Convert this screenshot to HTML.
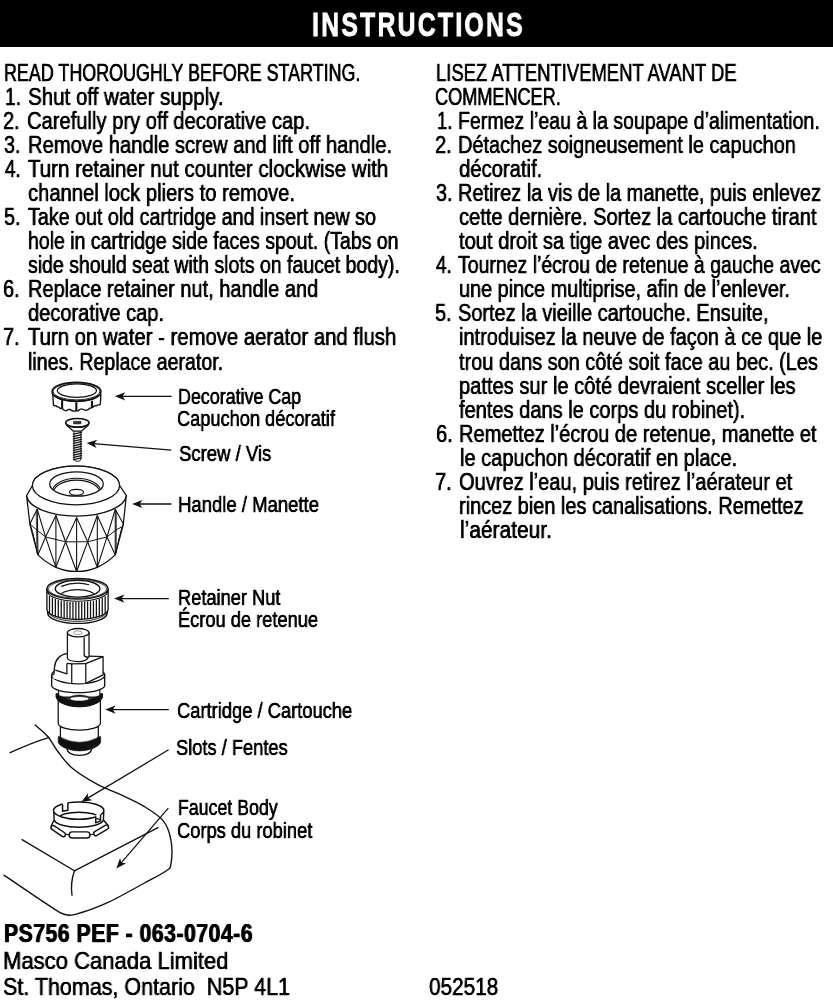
<!DOCTYPE html>
<html lang="en"><head><meta charset="utf-8"><title>Instructions</title>
<style>
html,body{margin:0;padding:0;background:#fff;}
html{width:833px;height:1000px;overflow:hidden;}
body{width:833px;height:1000px;position:relative;overflow:hidden;font-family:"Liberation Sans",sans-serif;}
.bar{position:absolute;left:0;top:0;width:833px;height:46.9px;background:#000;}
.t{position:absolute;white-space:pre;transform-origin:0 0;line-height:1;margin:0;will-change:transform;-webkit-text-stroke:0.3px currentColor;text-shadow:0.15px 0 0 currentColor,-0.15px 0 0 currentColor;}
.b{font-weight:bold;-webkit-text-stroke:0.2px currentColor;text-shadow:none;}
svg{position:absolute;left:0;top:0;}
</style></head><body>
<div class="bar"></div>
<svg width="833" height="1000" viewBox="0 0 833 1000" fill="none" stroke="#111" stroke-linejoin="round" stroke-linecap="butt">
<path d="M52.78,394.21 L53.45,404.78 C53.61,404.96 54.01,405.69 54.41,405.84 C54.81,405.98 55.40,405.48 55.85,405.64 C56.30,405.80 56.62,406.57 57.10,406.80 C57.58,407.02 58.27,406.75 58.73,406.99 C59.20,407.23 59.36,407.98 59.88,408.24 C60.41,408.49 61.37,408.37 61.90,408.53 C62.43,408.69 62.67,408.91 63.05,409.20 C63.44,409.49 63.70,409.98 64.21,410.25 C64.72,410.53 65.49,410.93 66.13,410.83 C66.77,410.73 67.41,409.90 68.05,409.68 C68.69,409.45 69.33,409.33 69.97,409.49 C70.61,409.65 71.25,410.37 71.89,410.64 C72.53,410.91 73.08,411.09 73.81,411.12 C74.55,411.15 75.59,410.89 76.31,410.83 C77.03,410.77 77.59,410.93 78.14,410.73 C78.68,410.54 79.02,409.98 79.58,409.68 C80.14,409.37 80.79,408.91 81.50,408.91 C82.20,408.91 83.10,409.44 83.80,409.68 C84.51,409.92 85.02,410.37 85.73,410.35 C86.43,410.33 87.33,409.93 88.03,409.58 C88.74,409.23 89.34,408.54 89.95,408.24 C90.56,407.93 91.17,407.93 91.68,407.76 C92.19,407.58 92.58,407.50 93.03,407.18 C93.47,406.86 93.83,406.04 94.37,405.84 C94.92,405.63 95.73,406.09 96.29,405.93 C96.85,405.77 97.25,405.04 97.73,404.88 C98.21,404.72 98.74,405.07 99.17,404.97 C99.61,404.88 100.13,404.41 100.33,404.30 L100.90,394.21" stroke-width="1.375" fill="#fff" />
<line x1="62.09" y1="400.17" x2="62.09" y2="408.53" stroke-width="2.09" />
<line x1="76.31" y1="402.28" x2="76.31" y2="410.83" stroke-width="2.09" />
<line x1="91.97" y1="400.74" x2="91.97" y2="407.76" stroke-width="2.09" />
<ellipse cx="76.50" cy="391.60" rx="24.50" ry="9.40" stroke-width="1.485" fill="#fff" />
<ellipse cx="76.50" cy="391.40" rx="23.30" ry="8.40" stroke-width="0.88" fill="none" />
<ellipse cx="76.90" cy="390.60" rx="19.60" ry="6.70" stroke-width="1.265" fill="none" />
<path d="M52.1,393.1 A24.5 9.4 0 0 0 100.9,393.1" stroke-width="1.1" fill="none" />
<path d="M74.0,430.5 L74.0,459.0 Q74.0,461.2 77.75,461.4 Q80.9,461.2 80.9,459.0 L80.9,430.5 Z" stroke-width="0.935" fill="#fff" />
<line x1="73.40" y1="434.20" x2="81.50" y2="432.40" stroke-width="1.32" stroke-linecap="round"/>
<line x1="73.40" y1="436.52" x2="81.50" y2="434.72" stroke-width="1.32" stroke-linecap="round"/>
<line x1="73.40" y1="438.84" x2="81.50" y2="437.04" stroke-width="1.32" stroke-linecap="round"/>
<line x1="73.40" y1="441.16" x2="81.50" y2="439.36" stroke-width="1.32" stroke-linecap="round"/>
<line x1="73.40" y1="443.48" x2="81.50" y2="441.68" stroke-width="1.32" stroke-linecap="round"/>
<line x1="73.40" y1="445.80" x2="81.50" y2="444.00" stroke-width="1.32" stroke-linecap="round"/>
<line x1="73.40" y1="448.12" x2="81.50" y2="446.32" stroke-width="1.32" stroke-linecap="round"/>
<line x1="73.40" y1="450.44" x2="81.50" y2="448.64" stroke-width="1.32" stroke-linecap="round"/>
<line x1="73.40" y1="452.76" x2="81.50" y2="450.96" stroke-width="1.32" stroke-linecap="round"/>
<line x1="73.40" y1="455.08" x2="81.50" y2="453.28" stroke-width="1.32" stroke-linecap="round"/>
<line x1="73.40" y1="457.40" x2="81.50" y2="455.60" stroke-width="1.32" stroke-linecap="round"/>
<line x1="73.40" y1="459.72" x2="81.50" y2="457.92" stroke-width="1.32" stroke-linecap="round"/>
<path d="M66.6,425.2 L73.5,431.2 L81.3,431.2 L88.2,425.2 Z" stroke-width="1.21" fill="#fff" />
<ellipse cx="77.40" cy="422.70" rx="11.70" ry="4.25" stroke-width="1.595" fill="#fff" />
<path d="M65.8,423.5 A11.7 4.3 0 0 0 89.0,423.5" stroke-width="1.32" fill="none" />
<rect x="73.5" y="421.3" width="7.5" height="2.6" fill="#333" stroke="#111" stroke-width="0.5"/>
<path d="M26.6,495.6 L29.94,524.52 L37.95,554.89 Q45.92,562.70 55.90,567.32 Q66.25,571.66 76.61,571.46 Q86.96,571.66 97.32,567.32 Q107.29,562.70 115.26,554.89 L123.27,524.52 L126.3,495.6 Z" stroke-width="1.265" fill="#fff" />
<line x1="37.26" y1="509.33" x2="37.95" y2="554.89" stroke-width="1.1" />
<line x1="55.90" y1="515.54" x2="55.90" y2="567.32" stroke-width="1.1" />
<line x1="76.61" y1="517.61" x2="76.61" y2="571.46" stroke-width="1.1" />
<line x1="97.32" y1="515.54" x2="97.32" y2="567.32" stroke-width="1.1" />
<line x1="115.26" y1="509.33" x2="115.26" y2="554.89" stroke-width="1.1" />
<line x1="36.16" y1="510.83" x2="36.95" y2="553.39" stroke-width="0.77" />
<line x1="116.36" y1="510.83" x2="116.26" y2="553.39" stroke-width="0.77" />
<path d="M37.26,509.33 L45.54,536.94 L55.90,567.32" stroke-width="1.1" fill="none" />
<path d="M55.90,515.54 L45.54,536.94 L37.95,554.89" stroke-width="1.1" fill="none" />
<path d="M55.90,515.54 L65.56,541.77 L76.61,571.46" stroke-width="1.1" fill="none" />
<path d="M76.61,517.61 L65.56,541.77 L55.90,567.32" stroke-width="1.1" fill="none" />
<path d="M76.61,517.61 L87.65,541.77 L97.32,567.32" stroke-width="1.1" fill="none" />
<path d="M97.32,515.54 L87.65,541.77 L76.61,571.46" stroke-width="1.1" fill="none" />
<path d="M97.32,515.54 L106.98,536.94 L115.26,554.89" stroke-width="1.1" fill="none" />
<path d="M115.26,509.33 L106.98,536.94 L97.32,567.32" stroke-width="1.1" fill="none" />
<path d="M37.26,509.33 L29.94,523.83" stroke-width="1.1" fill="none" />
<path d="M115.26,509.33 L123.27,523.83" stroke-width="1.1" fill="none" />
<path d="M29.94,523.83 L32.43,531.42 L37.95,554.89" stroke-width="0.99" fill="none" />
<path d="M123.27,523.83 L120.79,531.42 L115.26,554.89" stroke-width="0.99" fill="none" />
<path d="M29.94,523.83 L35.46,528.93 L45.54,536.94 L65.56,541.77 L87.65,541.77 L106.98,536.94 L117.06,529.35 L123.27,526.17" stroke-width="0.99" fill="none" />
<path d="M26.6,495.6 A49.9 21.4 0 0 0 126.3,495.6 L119.6,485.5 A43.6 19.3 0 0 0 32.4,485.5 Z" stroke-width="1.265" fill="#fff" />
<ellipse cx="76.00" cy="485.50" rx="43.60" ry="19.30" stroke-width="1.265" fill="#fff" />
<ellipse cx="76.50" cy="484.00" rx="26.80" ry="12.20" stroke-width="1.265" fill="#fff" />
<clipPath id="hc"><ellipse cx="76.5" cy="484" rx="26.3" ry="11.7"/></clipPath>
<g clip-path="url(#hc)">
<ellipse cx="76.60" cy="491.50" rx="24.20" ry="13.20" stroke-width="1.1" fill="none" />
<ellipse cx="76.60" cy="493.30" rx="23.40" ry="13.20" stroke-width="1.1" fill="none" />
</g>
<ellipse cx="76.50" cy="492.30" rx="7.00" ry="3.00" stroke-width="1.21" fill="none" />
<path d="M47.7,608 L47.7,613.6 A29.8 10.4 0 0 0 107.2,613.6 L107.2,608 Z" stroke-width="1.43" fill="#fff" />
<path d="M48.4,612.0 A29.2 10.2 0 0 0 106.6,612.0" stroke-width="0.88" fill="none" />
<path d="M46.9,588.8 L46.9,609.2 A30.6 10.3 0 0 0 108.1,609.2 L108.1,588.8 Z" stroke-width="1.32" fill="#fff" />
<line x1="49.50" y1="595.95" x2="49.50" y2="613.05" stroke-width="1.265" />
<line x1="52.43" y1="597.71" x2="52.43" y2="614.81" stroke-width="1.265" />
<line x1="55.36" y1="598.91" x2="55.36" y2="616.01" stroke-width="1.265" />
<line x1="58.29" y1="599.82" x2="58.29" y2="616.92" stroke-width="1.265" />
<line x1="61.22" y1="600.52" x2="61.22" y2="617.62" stroke-width="1.265" />
<line x1="64.15" y1="601.07" x2="64.15" y2="618.17" stroke-width="1.265" />
<line x1="67.08" y1="601.48" x2="67.08" y2="618.58" stroke-width="1.265" />
<line x1="70.01" y1="601.79" x2="70.01" y2="618.89" stroke-width="1.265" />
<line x1="72.94" y1="601.98" x2="72.94" y2="619.08" stroke-width="1.265" />
<line x1="75.87" y1="602.09" x2="75.87" y2="619.19" stroke-width="1.265" />
<line x1="78.80" y1="602.09" x2="78.80" y2="619.19" stroke-width="1.265" />
<line x1="81.73" y1="602.00" x2="81.73" y2="619.10" stroke-width="1.265" />
<line x1="84.66" y1="601.81" x2="84.66" y2="618.91" stroke-width="1.265" />
<line x1="87.59" y1="601.52" x2="87.59" y2="618.62" stroke-width="1.265" />
<line x1="90.52" y1="601.12" x2="90.52" y2="618.22" stroke-width="1.265" />
<line x1="93.45" y1="600.59" x2="93.45" y2="617.69" stroke-width="1.265" />
<line x1="96.38" y1="599.91" x2="96.38" y2="617.01" stroke-width="1.265" />
<line x1="99.31" y1="599.02" x2="99.31" y2="616.12" stroke-width="1.265" />
<line x1="102.24" y1="597.86" x2="102.24" y2="614.96" stroke-width="1.265" />
<line x1="105.17" y1="596.20" x2="105.17" y2="613.30" stroke-width="1.265" />
<path d="M47.199999999999996,591.0 A30.3 10.3 0 0 0 107.8,591.0" stroke-width="1.1" fill="none" />
<ellipse cx="77.50" cy="588.80" rx="30.60" ry="10.30" stroke-width="1.485" fill="#fff" />
<ellipse cx="77.50" cy="589.00" rx="29.00" ry="9.20" stroke-width="0.77" fill="none" />
<ellipse cx="77.60" cy="588.70" rx="22.30" ry="8.40" stroke-width="1.375" fill="#fff" />
<path d="M61.16,586.41 Q76.01,580.60 89.07,584.78" stroke-width="1.21" fill="none" />
<clipPath id="rc"><ellipse cx="77.6" cy="588.7" rx="21.8" ry="7.9"/></clipPath>
<g clip-path="url(#rc)">
<ellipse cx="77.60" cy="596.00" rx="17.20" ry="6.40" stroke-width="1.265" fill="none" />
</g>
<path d="M66.9,748.6 C67.5,753.2 73,755.3 79.4,755.3 C86,755.3 91.2,753.2 91.8,748.6" stroke-width="1.32" fill="#fff" />
<path d="M60.4,741 L60.4,724 L98.3,724 L98.3,741" stroke-width="1.265" fill="#fff" />
<path d="M58.2,738 L58.5,736.2 Q79.45,748.4 100.4,736.2 L100.7,738 L100.7,741.9 C100.7,745.2 92,750.9 79.4,750.9 C67,750.9 58.2,745.2 58.2,741.9 Z" stroke-width="0.55" fill="#111" />
<path d="M58.2,698 L58.2,723.2 A21.1 7.0 0 0 0 100.4,723.2 L100.4,698 Z" stroke-width="1.265" fill="#fff" />
<path d="M58.6,688 L58.6,697 L99.8,697 L99.8,688 Z" stroke-width="1.1" fill="#fff" />
<path d="M57,694.5 C56.2,700 64.3,705.9 79.3,705.7 C94.3,705.9 102.4,700 101.6,694.5 Q96.2,697.0 89.3,699.4 L69.5,699.4 Q62.5,697.0 57,694.5 Z" stroke-width="0.44" fill="#111" />
<path d="M57,694.4 C56.2,700 64.3,705.9 79.3,705.7 C94.3,705.9 102.4,700 101.6,694.4" fill="none" stroke="#111" stroke-width="3.0" stroke-linecap="round"/>
<ellipse cx="79.40" cy="698.40" rx="10.00" ry="3.50" stroke-width="0.44" fill="#111" />
<ellipse cx="79.40" cy="698.70" rx="9.10" ry="1.80" stroke-width="0.33" fill="#fff" stroke="#fff"/>
<path d="M51.7,675 L51.7,685.6 A26.5 7.0 0 0 0 104.7,685.6 L104.7,675 A26.5 8.8 0 0 0 51.7,675 Z" stroke-width="1.32" fill="#fff" />
<path d="M51.7,675 A26.5 8.8 0 0 0 104.7,675" stroke-width="1.265" fill="none" />
<path d="M52.29,675.15 L54.23,673.64 L54.45,667.38 Q55.53,655.49 67.41,653.33 L89.02,656.14 L103.06,656.57 L103.06,674.94 L85.78,683.26 L71.73,683.04 L53.37,678.40 Z" stroke-width="1.265" fill="#fff" stroke="none"/>
<path d="M67.41,653.33 Q55.53,655.49 54.45,667.38 L54.01,674.07 L52.07,675.15" stroke-width="1.265" fill="none" />
<path d="M55.31,670.08 L66.87,673.86 L66.87,663.38" stroke-width="1.265" fill="none" />
<path d="M66.87,663.38 L71.73,663.92 L85.78,663.70" stroke-width="1.265" fill="none" />
<path d="M71.73,663.92 L71.73,683.15" stroke-width="1.265" fill="none" />
<path d="M85.78,663.70 L85.78,683.37" stroke-width="1.265" fill="none" />
<path d="M85.78,663.70 L103.06,656.57 L103.06,674.94 L85.78,683.37" stroke-width="1.265" fill="none" />
<path d="M88.80,656.14 L103.06,656.57" stroke-width="1.265" fill="none" />
<path d="M67.41,632.80 L67.41,658.19 Q68.41,661.54 78.22,661.54 Q85.94,661.54 87.94,657.87 L89.02,656.36 L89.02,632.80 Z" stroke-width="1.265" fill="#fff" />
<path d="M84.16,637.13 L84.16,655.28 Q84.66,657.22 88.15,657.22" stroke-width="1.265" fill="none" />
<ellipse cx="78.20" cy="632.70" rx="10.80" ry="4.20" stroke-width="1.265" fill="#fff" />
<ellipse cx="77.80" cy="632.70" rx="4.30" ry="1.90" stroke-width="0.77" fill="none" stroke="#777"/>
<path d="M34.81,724.80 C37.01,726.80 44.22,732.40 48.02,736.81 C51.82,741.21 53.62,746.01 57.62,751.21 C61.62,756.41 65.63,762.62 72.03,768.02 C78.43,773.42 88.04,779.22 96.04,783.63 C104.04,788.03 112.04,790.63 120.05,794.43 C128.05,798.23 136.85,802.03 144.06,806.43 C151.26,810.84 158.78,815.24 163.27,820.84 C167.75,826.44 169.67,832.85 170.95,840.05 C172.23,847.25 171.83,858.86 170.95,864.06 C170.07,869.26 170.15,868.06 165.67,871.26 C161.18,874.46 153.66,878.06 144.06,883.27 C134.45,888.47 118.85,897.47 108.04,902.47 C97.24,907.47 86.43,911.28 79.23,913.28 C72.03,915.28 70.03,915.88 64.83,914.48 C59.62,913.08 58.22,911.48 48.02,904.87 C37.82,898.27 11.00,879.86 3.60,874.86" stroke-width="1.375" fill="none" />
<path d="M9.60,752.89 Q31.21,742.81 49.22,737.29" stroke-width="1.375" fill="none" />
<path d="M21.61,839.33 L74.43,870.78 L158.46,827.32" stroke-width="1.375" fill="none" />
<path d="M74.43,870.78 Q70.11,883.27 72.03,895.75" stroke-width="1.375" fill="none" />
<path d="M53.74,810.65 L54.12,819.97 L50.76,826.70 L63.05,835.63 L93.79,835.63 L108.78,826.12 L103.40,819.97 L103.78,812.09 Z" stroke-width="1.1" fill="#fff" stroke="none"/>
<path d="M54.12,819.97 L50.95,826.50" stroke-width="1.43" fill="none" />
<path d="M103.40,819.97 L108.59,825.93" stroke-width="1.43" fill="none" />
<rect x="49.95" y="828.96" width="16.60" height="4.30" rx="2.15" ry="2.15" fill="#fff" stroke-width="1.45" transform="rotate(34 58.25 831.11)"/>
<rect x="69.18" y="831.86" width="20.80" height="6.20" rx="3.10" ry="3.10" fill="#fff" stroke-width="1.45" transform="rotate(0 79.58 834.96)"/>
<rect x="92.80" y="828.20" width="16.60" height="4.30" rx="2.15" ry="2.15" fill="#fff" stroke-width="1.45" transform="rotate(-31 101.10 830.35)"/>
<path d="M66.13,834.38 L69.30,834.76" stroke-width="1.1" fill="none" />
<path d="M89.95,834.76 L93.31,834.19" stroke-width="1.1" fill="none" />
<path d="M53.74,810.65 L54.12,819.97 A24.8 8.3 0 0 0 103.40,819.97 L103.78,812.09" stroke-width="1.43" fill="#fff" />
<ellipse cx="78.70" cy="810.60" rx="25.20" ry="8.60" stroke-width="1.485" fill="#fff" />
<clipPath id="sc"><ellipse cx="78.7" cy="810.6" rx="24.7" ry="8.1"/></clipPath>
<g clip-path="url(#sc)">
<ellipse cx="78.90" cy="817.60" rx="19.50" ry="5.40" stroke-width="1.375" fill="none" />
</g>
<path d="M62.57,801.34 L62.57,811.33 L67.86,810.27 L67.86,800.76 Z" stroke-width="0.11" fill="#fff" stroke="#fff"/>
<path d="M62.57,804.31 L62.57,811.33 L67.86,810.27 L67.86,802.68" stroke-width="1.485" fill="none" />
<path d="M95.72,815.17 L95.72,822.85 L100.52,820.93 L100.52,813.63 Z" stroke-width="0.11" fill="#fff" stroke="#fff"/>
<path d="M95.72,816.13 L95.72,822.85 L100.52,820.93 L100.52,814.69" stroke-width="1.485" fill="none" />
<path d="M96.10,818.63 L100.13,819.39" stroke-width="1.1" fill="none" />
<line x1="121.90" y1="396.30" x2="171.60" y2="396.30" stroke-width="1.265" />
<path d="M114.90,396.30 L125.20,392.20 L122.50,396.30 L125.20,400.40 Z" fill="#111" stroke="none"/>
<line x1="93.58" y1="443.68" x2="171.30" y2="450.20" stroke-width="1.265" />
<path d="M86.60,443.10 L97.21,439.87 L94.17,443.73 L96.52,448.05 Z" fill="#111" stroke="none"/>
<line x1="139.10" y1="504.00" x2="171.30" y2="504.00" stroke-width="1.265" />
<path d="M132.10,504.00 L142.40,499.90 L139.70,504.00 L142.40,508.10 Z" fill="#111" stroke="none"/>
<line x1="121.10" y1="598.60" x2="168.80" y2="598.60" stroke-width="1.265" />
<path d="M114.10,598.60 L124.40,594.50 L121.70,598.60 L124.40,602.70 Z" fill="#111" stroke="none"/>
<line x1="112.20" y1="709.60" x2="168.80" y2="709.60" stroke-width="1.265" />
<path d="M105.20,709.60 L115.50,705.50 L112.80,709.60 L115.50,713.70 Z" fill="#111" stroke="none"/>
<line x1="87.31" y1="798.41" x2="168.60" y2="749.80" stroke-width="1.265" />
<path d="M81.30,802.00 L88.04,793.20 L87.82,798.10 L92.24,800.23 Z" fill="#111" stroke="none"/>
<line x1="120.97" y1="863.10" x2="168.30" y2="808.20" stroke-width="1.265" />
<path d="M116.40,868.40 L120.02,857.92 L121.36,862.64 L126.23,863.28 Z" fill="#111" stroke="none"/>
</svg>
<div class="t b" style="left:311.65px;top:5px;font-size:34.0px;line-height:38px;color:#fff;transform:scaleX(0.7258);letter-spacing:3.2px;-webkit-text-stroke:1.0px currentColor;">INSTRUCTIONS</div>
<div class="t" style="left:4.14px;top:60px;font-size:23.1px;line-height:26px;color:#000;transform:scaleX(0.7752);">READ THOROUGHLY BEFORE STARTING.</div>
<div class="t" style="left:4.72px;top:84px;font-size:23.1px;line-height:26px;color:#000;transform:scaleX(0.8399);">1.</div>
<div class="t" style="left:27.68px;top:84px;font-size:23.1px;line-height:26px;color:#000;transform:scaleX(0.8893);">Shut off water supply.</div>
<div class="t" style="left:3.49px;top:108px;font-size:23.1px;line-height:26px;color:#000;transform:scaleX(0.8619);">2.</div>
<div class="t" style="left:26.87px;top:108px;font-size:23.1px;line-height:26px;color:#000;transform:scaleX(0.8726);">Carefully pry off decorative cap.</div>
<div class="t" style="left:4.14px;top:132px;font-size:23.1px;line-height:26px;color:#000;transform:scaleX(0.8517);">3.</div>
<div class="t" style="left:28.11px;top:132px;font-size:23.1px;line-height:26px;color:#000;transform:scaleX(0.8736);">Remove handle screw and lift off handle.</div>
<div class="t" style="left:4.84px;top:156px;font-size:23.1px;line-height:26px;color:#000;transform:scaleX(0.8130);">4.</div>
<div class="t" style="left:27.86px;top:156px;font-size:23.1px;line-height:26px;color:#000;transform:scaleX(0.8872);">Turn retainer nut counter clockwise with</div>
<div class="t" style="left:27.77px;top:180px;font-size:23.1px;line-height:26px;color:#000;transform:scaleX(0.8739);">channel lock pliers to remove.</div>
<div class="t" style="left:3.68px;top:204px;font-size:23.1px;line-height:26px;color:#000;transform:scaleX(0.8572);">5.</div>
<div class="t" style="left:27.86px;top:204px;font-size:23.1px;line-height:26px;color:#000;transform:scaleX(0.8522);">Take out old cartridge and insert new so</div>
<div class="t" style="left:28.07px;top:228px;font-size:23.1px;line-height:26px;color:#000;transform:scaleX(0.8439);">hole in cartridge side faces spout. (Tabs on</div>
<div class="t" style="left:27.67px;top:252px;font-size:23.1px;line-height:26px;color:#000;transform:scaleX(0.8443);">side should seat with slots on faucet body).</div>
<div class="t" style="left:3.32px;top:276px;font-size:23.1px;line-height:26px;color:#000;transform:scaleX(0.8638);">6.</div>
<div class="t" style="left:28.11px;top:276px;font-size:23.1px;line-height:26px;color:#000;transform:scaleX(0.8660);">Replace retainer nut, handle and</div>
<div class="t" style="left:27.97px;top:300px;font-size:23.1px;line-height:26px;color:#000;transform:scaleX(0.8684);">decorative cap.</div>
<div class="t" style="left:3.40px;top:324px;font-size:23.1px;line-height:26px;color:#000;transform:scaleX(0.8623);">7.</div>
<div class="t" style="left:27.86px;top:324px;font-size:23.1px;line-height:26px;color:#000;transform:scaleX(0.8790);">Turn on water - remove aerator and flush</div>
<div class="t" style="left:28.10px;top:349px;font-size:23.1px;line-height:26px;color:#000;transform:scaleX(0.8495);">lines. Replace aerator.</div>
<div class="t" style="left:435.59px;top:60px;font-size:23.1px;line-height:26px;color:#000;transform:scaleX(0.7987);">LISEZ ATTENTIVEMENT AVANT DE</div>
<div class="t" style="left:435.12px;top:84px;font-size:23.1px;line-height:26px;color:#000;transform:scaleX(0.7842);">COMMENCER.</div>
<div class="t" style="left:436.86px;top:108px;font-size:23.1px;line-height:26px;color:#000;transform:scaleX(0.8031);">1.</div>
<div class="t" style="left:458.26px;top:108px;font-size:23.1px;line-height:26px;color:#000;transform:scaleX(0.8462);">Fermez l’eau à la soupape d’alimentation.</div>
<div class="t" style="left:434.98px;top:132px;font-size:23.1px;line-height:26px;color:#000;transform:scaleX(0.8682);">2.</div>
<div class="t" style="left:458.12px;top:132px;font-size:23.1px;line-height:26px;color:#000;transform:scaleX(0.8628);">Détachez soigneusement le capuchon</div>
<div class="t" style="left:459.47px;top:156px;font-size:23.1px;line-height:26px;color:#000;transform:scaleX(0.8767);">décoratif.</div>
<div class="t" style="left:435.59px;top:180px;font-size:23.1px;line-height:26px;color:#000;transform:scaleX(0.8565);">3.</div>
<div class="t" style="left:458.12px;top:180px;font-size:23.1px;line-height:26px;color:#000;transform:scaleX(0.8649);">Retirez la vis de la manette, puis enlevez</div>
<div class="t" style="left:459.27px;top:204px;font-size:23.1px;line-height:26px;color:#000;transform:scaleX(0.8704);">cette dernière. Sortez la cartouche tirant</div>
<div class="t" style="left:459.47px;top:228px;font-size:23.1px;line-height:26px;color:#000;transform:scaleX(0.8716);">tout droit sa tige avec des pinces.</div>
<div class="t" style="left:436.34px;top:252px;font-size:23.1px;line-height:26px;color:#000;transform:scaleX(0.8188);">4.</div>
<div class="t" style="left:457.86px;top:252px;font-size:23.1px;line-height:26px;color:#000;transform:scaleX(0.8430);">Tournez l’écrou de retenue à gauche avec</div>
<div class="t" style="left:459.15px;top:276px;font-size:23.1px;line-height:26px;color:#000;transform:scaleX(0.8594);">une pince multiprise, afin de l’enlever.</div>
<div class="t" style="left:435.13px;top:300px;font-size:23.1px;line-height:26px;color:#000;transform:scaleX(0.8632);">5.</div>
<div class="t" style="left:457.78px;top:300px;font-size:23.1px;line-height:26px;color:#000;transform:scaleX(0.8638);">Sortez la vieille cartouche. Ensuite,</div>
<div class="t" style="left:459.09px;top:324px;font-size:23.1px;line-height:26px;color:#000;transform:scaleX(0.8653);">introduisez la neuve de façon à ce que le</div>
<div class="t" style="left:459.47px;top:349px;font-size:23.1px;line-height:26px;color:#000;transform:scaleX(0.8629);">trou dans son côté soit face au bec. (Les</div>
<div class="t" style="left:459.12px;top:373px;font-size:23.1px;line-height:26px;color:#000;transform:scaleX(0.8710);">pattes sur le côté devraient sceller les</div>
<div class="t" style="left:459.48px;top:397px;font-size:23.1px;line-height:26px;color:#000;transform:scaleX(0.8676);">fentes dans le corps du robinet).</div>
<div class="t" style="left:435.82px;top:421px;font-size:23.1px;line-height:26px;color:#000;transform:scaleX(0.8707);">6.</div>
<div class="t" style="left:458.61px;top:421px;font-size:23.1px;line-height:26px;color:#000;transform:scaleX(0.8675);">Remettez l’écrou de retenue, manette et</div>
<div class="t" style="left:460.06px;top:445px;font-size:23.1px;line-height:26px;color:#000;transform:scaleX(0.8669);">le capuchon décoratif en place.</div>
<div class="t" style="left:434.90px;top:469px;font-size:23.1px;line-height:26px;color:#000;transform:scaleX(0.8684);">7.</div>
<div class="t" style="left:458.63px;top:469px;font-size:23.1px;line-height:26px;color:#000;transform:scaleX(0.8683);">Ouvrez l’eau, puis retirez l’aérateur et</div>
<div class="t" style="left:459.09px;top:493px;font-size:23.1px;line-height:26px;color:#000;transform:scaleX(0.8630);">rincez bien les canalisations. Remettez</div>
<div class="t" style="left:459.90px;top:517px;font-size:23.1px;line-height:26px;color:#000;transform:scaleX(0.9053);">l’aérateur.</div>
<div class="t" style="left:177.70px;top:384px;font-size:22.3px;line-height:25px;color:#000;transform:scaleX(0.8012);">Decorative Cap</div>
<div class="t" style="left:176.52px;top:406px;font-size:22.3px;line-height:25px;color:#000;transform:scaleX(0.8167);">Capuchon décoratif</div>
<div class="t" style="left:178.58px;top:441px;font-size:22.3px;line-height:25px;color:#000;transform:scaleX(0.8303);">Screw / Vis</div>
<div class="t" style="left:178.07px;top:492px;font-size:22.3px;line-height:25px;color:#000;transform:scaleX(0.8306);">Handle / Manette</div>
<div class="t" style="left:178.14px;top:585px;font-size:22.3px;line-height:25px;color:#000;transform:scaleX(0.8184);">Retainer Nut</div>
<div class="t" style="left:178.14px;top:607px;font-size:22.3px;line-height:25px;color:#000;transform:scaleX(0.8190);">Écrou de retenue</div>
<div class="t" style="left:176.52px;top:698px;font-size:22.3px;line-height:25px;color:#000;transform:scaleX(0.8221);">Cartridge / Cartouche</div>
<div class="t" style="left:176.09px;top:735px;font-size:22.3px;line-height:25px;color:#000;transform:scaleX(0.8193);">Slots / Fentes</div>
<div class="t" style="left:177.82px;top:795px;font-size:22.3px;line-height:25px;color:#000;transform:scaleX(0.7961);">Faucet Body</div>
<div class="t" style="left:176.52px;top:818px;font-size:22.3px;line-height:25px;color:#000;transform:scaleX(0.8208);">Corps du robinet</div>
<div class="t b" style="left:4.12px;top:919px;font-size:25.0px;line-height:28px;color:#000;transform:scaleX(0.8472);text-shadow:0.5px 0 0 currentColor,-0.5px 0 0 currentColor;letter-spacing:0.6px;-webkit-text-stroke:0.25px currentColor;">PS756 PEF - 063-0704-6</div>
<div class="t" style="left:3.07px;top:947px;font-size:24.0px;line-height:27px;color:#000;transform:scaleX(0.9187);">Masco Canada Limited</div>
<div class="t" style="left:3.07px;top:973px;font-size:24.0px;line-height:27px;color:#000;transform:scaleX(0.8951);">St. Thomas, Ontario  N5P 4L1</div>
<div class="t" style="left:428.86px;top:973px;font-size:24.0px;line-height:27px;color:#000;transform:scaleX(0.8642);">052518</div>
</body></html>
